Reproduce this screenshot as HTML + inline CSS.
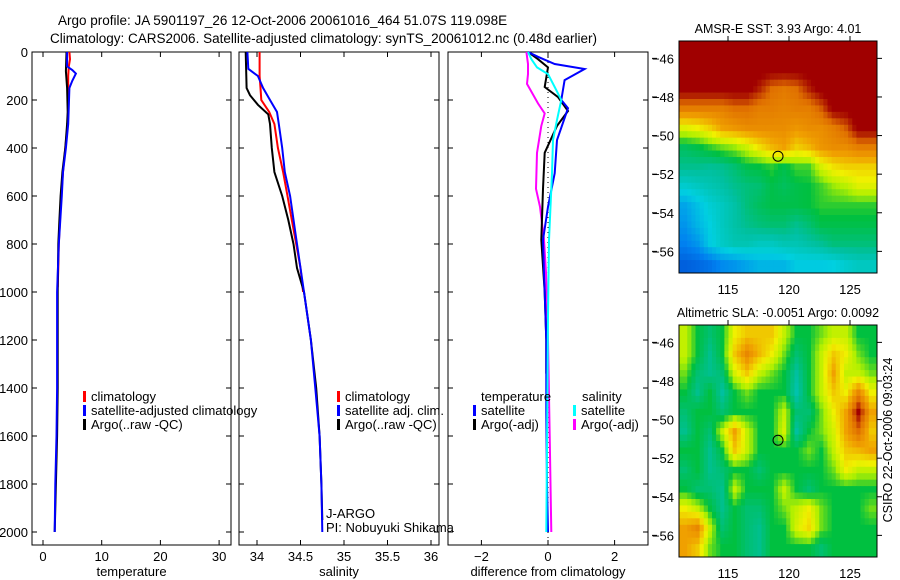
<!DOCTYPE html>
<html><head><meta charset="utf-8"><style>
html,body{margin:0;padding:0;background:#fff;width:900px;height:580px;overflow:hidden}
svg{display:block;font-family:"Liberation Sans",sans-serif}
</style></head><body>
<svg id="fig" width="900" height="580" xmlns="http://www.w3.org/2000/svg">
<text x="58" y="25" font-size="13.5">Argo profile: JA 5901197_26 12-Oct-2006 20061016_464 51.07S 119.098E</text>
<text x="50" y="43" font-size="13.5">Climatology: CARS2006. Satellite-adjusted climatology: synTS_20061012.nc (0.48d earlier)</text>
<g id="g"></g>
</svg>
<script>
// ---- data ----
const depthTicks=[0,200,400,600,800,1000,1200,1400,1600,1800,2000];
const tempTicks=[0,10,20,30];
const salTicks=[34,34.5,35,35.5,36];
const diffTicks=[-2,0,2];
const tClimD=[0,30,60,100,200,300,400,500,600,700,800,900,980];
const tClimV=[4.5,4.6,4.4,4.3,4.3,4.2,3.8,3.4,3.1,2.9,2.7,2.6,2.5];
const tSatD=[0,60,75,90,120,150,300,400,500,600,800,1000,1200,1400,1600,1800,2000];
const tSatV=[4.1,4.1,5.0,5.6,5.0,4.5,4.3,3.9,3.4,3.2,2.7,2.4,2.4,2.4,2.3,2.1,2.0];
const tArgD=[0,80,150,250,300,400,500,600,700,800,1000,1200,1400,1600,1800,2000];
const tArgV=[4.0,3.9,4.1,4.2,4.1,3.8,3.3,3.0,2.8,2.6,2.5,2.5,2.5,2.4,2.2,2.0];
const sClimD=[0,100,150,200,250,300,400,500,600,700,800,900,1000];
const sClimV=[34.03,34.03,34.04,34.05,34.14,34.2,34.24,34.3,34.35,34.4,34.45,34.5,34.53];
const sSatD=[0,70,100,150,200,250,300,400,500,600,800,1000,1200,1400,1600,1800,2000];
const sSatV=[33.89,33.9,34.01,34.07,34.15,34.23,34.25,34.29,34.32,34.38,34.46,34.54,34.62,34.67,34.72,34.74,34.75];
const sArgD=[0,150,180,220,260,300,400,500,600,700,800,900,1000,1200,1400,1600,1800,1950];
const sArgV=[33.87,33.88,33.92,34.01,34.13,34.15,34.17,34.2,34.29,34.36,34.42,34.46,34.54,34.62,34.68,34.72,34.74,34.75];
const dTSatD=[0,20,50,71,117,200,234,367,505,645,783,920,1200,1500,1800,2000];
const dTSatV=[-0.6,-0.3,0.2,1.1,0.5,0.4,0.6,0.27,0.2,0.0,-0.15,-0.12,-0.05,-0.05,-0.03,0.0];
const dTArgD=[0,30,64,146,188,246,308,420,570,783,1000,1200,1340];
const dTArgV=[-0.6,-0.3,0.0,-0.1,0.3,0.6,0.27,-0.1,-0.15,-0.2,-0.1,-0.05,-0.05];
const dSSatD=[0,30,64,92,146,200,283,367,505,783,1100,1500,2000];
const dSSatV=[-0.6,-0.5,-0.33,0.0,0.2,0.4,0.27,0.15,0.12,0.03,0.0,-0.02,-0.05];
const dSArgD=[0,50,92,133,214,256,308,420,570,645,783,920,1200,1600,2000];
const dSArgV=[-0.65,-0.6,-0.6,-0.63,-0.3,-0.1,-0.2,-0.33,-0.36,-0.24,-0.12,-0.06,0.0,0.05,0.1];
const lonTicks=[115,120,125];
const latTicks=[-46,-48,-50,-52,-54,-56];
const sstGrid=[
[1,1,1,1,1,1,1,1,1,1,1,1,1,1,1,1],
[1,1,1,1,1,1,1,1,1,1,1,1,1,1,1,1],
[1,1,1,1,1,1,.95,.88,.86,.88,.95,1,1,1,1,1],
[.85,.85,.85,.85,.88,.88,.85,.85,.84,.85,.85,.9,1,1,1,1],
[.66,.68,.72,.78,.8,.82,.82,.82,.82,.8,.82,.82,.85,.9,1,1],
[.5,.52,.55,.58,.6,.64,.7,.75,.78,.72,.75,.8,.82,.82,.85,.85],
[.45,.45,.44,.45,.48,.52,.53,.55,.52,.56,.56,.65,.7,.72,.72,.72],
[.36,.38,.4,.42,.45,.47,.48,.52,.5,.52,.53,.56,.6,.62,.66,.66],
[.25,.3,.35,.38,.42,.47,.5,.52,.52,.52,.53,.55,.55,.55,.55,.55],
[.22,.28,.33,.38,.42,.45,.47,.48,.48,.45,.48,.52,.52,.52,.52,.52],
[.18,.22,.32,.37,.4,.4,.38,.38,.4,.4,.42,.44,.47,.47,.47,.47],
[.1,.12,.15,.2,.22,.25,.28,.28,.28,.32,.32,.32,.33,.36,.38,.38]];
const slaGrid=[
[.6,.5,.45,.5,.65,.7,.7,.7,.6,.5,.5,.55,.6,.6,.5,.5],
[.6,.5,.42,.5,.7,.8,.72,.65,.55,.45,.5,.6,.7,.65,.55,.5],
[.55,.45,.42,.45,.62,.7,.6,.55,.5,.4,.5,.6,.75,.6,.6,.55],
[.5,.42,.5,.4,.5,.55,.5,.5,.5,.38,.5,.6,.7,.65,.8,.65],
[.45,.5,.5,.45,.5,.5,.5,.5,.6,.45,.45,.55,.65,.75,.95,.75],
[.42,.5,.45,.6,.75,.6,.5,.5,.62,.4,.5,.55,.62,.75,.85,.7],
[.5,.5,.42,.5,.7,.6,.5,.5,.5,.5,.55,.5,.6,.7,.72,.75],
[.45,.5,.42,.45,.5,.5,.45,.5,.5,.5,.5,.5,.55,.65,.6,.6],
[.5,.45,.45,.42,.6,.5,.5,.5,.6,.5,.45,.5,.5,.5,.5,.5],
[.65,.6,.5,.42,.5,.45,.45,.5,.55,.6,.65,.55,.5,.5,.5,.55],
[.75,.8,.6,.45,.5,.45,.42,.5,.5,.62,.68,.55,.5,.5,.5,.5],
[.75,.7,.55,.5,.5,.45,.42,.5,.5,.5,.5,.45,.5,.5,.5,.5]];
const argoLon=119.1, argoLat=-51.07;

// ---- drawing ----
const NS="http://www.w3.org/2000/svg";const G=document.getElementById('g');
function el(t,a,p){const e=document.createElementNS(NS,t);for(const k in a)e.setAttribute(k,a[k]);(p||G).appendChild(e);return e;}
const yD=d=>52+0.24*d;
const panels=[
 {x0:32,x1:231,fx:v=>43+5.87*v,ticks:tempTicks,lab:'temperature',name:'temperature-panel'},
 {x0:239,x1:439,fx:v=>257+87*(v-34),ticks:salTicks,lab:'salinity',name:'salinity-panel'},
 {x0:448,x1:648,fx:v=>548+33.3*v,ticks:diffTicks,lab:'difference from climatology',name:'difference-panel'}];
panels.forEach((p,i)=>{
 const g=el('g',{});
 
 
 el('rect',{x:p.x0,y:52,width:p.x1-p.x0,height:493,fill:'none',stroke:'#000','stroke-width':1},g);
 depthTicks.forEach(d=>{const y=yD(d);
  el('line',{x1:p.x0,x2:p.x0+5,y1:y,y2:y,stroke:'#000'},g);el('line',{x1:p.x1-5,x2:p.x1,y1:y,y2:y,stroke:'#000'},g);
  if(i==0){const t=el('text',{x:28,y:y+5,'font-size':13,'text-anchor':'end'},g);t.textContent=d;
   
   }
 });
 p.ticks.forEach(v=>{const x=p.fx(v);
  el('line',{x1:x,x2:x,y1:52,y2:57,stroke:'#000'},g);el('line',{x1:x,x2:x,y1:540,y2:545,stroke:'#000'},g);
  const t=el('text',{x:x,y:561,'font-size':13,'text-anchor':'middle'},g);t.textContent=(v<0?'\u2212'+(-v):v);
  
  
 });
 const lt=el('text',{x:(p.x0+p.x1)/2,y:576,'font-size':13,'text-anchor':'middle'},g);lt.textContent=p.lab;
 
 
});
function series(D,V,fx,col,name){
 const pts=D.map((d,i)=>fx(V[i]).toFixed(1)+','+yD(d).toFixed(1)).join(' ');
 const e=el('polyline',{points:pts,fill:'none',stroke:col,'stroke-width':2});
 
 
}
const zl=el('line',{x1:548,x2:548,y1:52,y2:545,stroke:'#000','stroke-dasharray':'1,4'});


const P=panels;
series(tClimD,tClimV,P[0].fx,'#f00','temp-climatology-line');
series(tArgD,tArgV,P[0].fx,'#000','temp-argo-line');
series(tSatD,tSatV,P[0].fx,'#00f','temp-satellite-line');
series(sClimD,sClimV,P[1].fx,'#f00','sal-climatology-line');
series(sArgD,sArgV,P[1].fx,'#000','sal-argo-line');
series(sSatD,sSatV,P[1].fx,'#00f','sal-satellite-line');
series(dSArgD,dSArgV,P[2].fx,'#f0f','diff-sal-argo-line');
series(dTArgD,dTArgV,P[2].fx,'#000','diff-temp-argo-line');
series(dTSatD,dTSatV,P[2].fx,'#00f','diff-temp-satellite-line');
series(dSSatD,dSSatV,P[2].fx,'#0ff','diff-sal-satellite-line');
function legend(x,y,col,txt,name){
 el('rect',{x:x,y:y-10,width:3,height:11,fill:col});
 const t=el('text',{x:x+8,y:y,'font-size':13});t.textContent=txt;
 
 
}
legend(83,401,'#f00','climatology','legend-climatology');
legend(83,415,'#00f','satellite-adjusted climatology','legend-satellite');
legend(83,429,'#000','Argo(..raw -QC)','legend-argo');
legend(337,401,'#f00','climatology','legend-climatology-2');
legend(337,415,'#00f','satellite adj. clim.','legend-satellite-2');
legend(337,429,'#000','Argo(..raw -QC)','legend-argo-2');
let tt=el('text',{x:481,y:401,'font-size':13});tt.textContent='temperature';


legend(473,415,'#00f','satellite','legend-temp-satellite');
legend(473,429,'#000','Argo(-adj)','legend-temp-argo');
tt=el('text',{x:582,y:401,'font-size':13});tt.textContent='salinity';


legend(573,415,'#0ff','satellite','legend-sal-satellite');
legend(573,429,'#f0f','Argo(-adj)','legend-sal-argo');
tt=el('text',{x:326,y:518,'font-size':13});tt.textContent='J-ARGO';


tt=el('text',{x:326,y:532,'font-size':13});tt.textContent='PI: Nobuyuki Shikama';



// maps
const stops=[[0,[0,48,192]],[.2,[0,128,240]],[.35,[0,208,224]],[.45,[0,192,160]],[.55,[0,192,64]],[.63,[176,240,0]],[.7,[240,240,0]],[.8,[240,160,0]],[.9,[224,112,0]],[1,[160,0,0]]];
function cmap(v){v=Math.max(0,Math.min(1,v));for(let i=1;i<stops.length;i++){if(v<=stops[i][0]){const a=stops[i-1],b=stops[i],f=(v-a[0])/(b[0]-a[0]);return 'rgb('+a[1].map((c,k)=>Math.round(c+(b[1][k]-c)*f)).join(',')+')';}}return 'rgb(160,0,0)';}
function sample(grid,r,c){
 const R=grid.length,C=grid[0].length;
 r=Math.max(0,Math.min(R-1,r));c=Math.max(0,Math.min(C-1,c));
 const r0=Math.floor(r),c0=Math.floor(c),r1=Math.min(R-1,r0+1),c1=Math.min(C-1,c0+1),fr=r-r0,fc=c-c0;
 return grid[r0][c0]*(1-fr)*(1-fc)+grid[r0][c1]*(1-fr)*fc+grid[r1][c0]*fr*(1-fc)+grid[r1][c1]*fr*fc;
}
function map(y0,grid,title,name,off){
 const x0=679,x1=877,y1=y0+232,lat0=-45.1,px=12.2,py=19.3;
 const g=el('g',{});
 
 
 const R=grid.length,C=grid[0].length,S=3,cw=(x1-x0)/(C*S),ch=(y1-y0)/(R*S);
 for(let r=0;r<R*S;r++)for(let c=0;c<C*S;c++){
  const v=sample(grid,(r+0.5)/S-0.5,(c+0.5)/S-0.5)+off;
  el('rect',{x:(x0+c*cw).toFixed(2),y:(y0+r*ch).toFixed(2),width:(cw+0.5).toFixed(2),height:(ch+0.5).toFixed(2),fill:cmap(v)},g);
 }
 el('rect',{x:x0,y:y0,width:x1-x0,height:y1-y0,fill:'none',stroke:'#000'},g);
 lonTicks.forEach(l=>{const x=728+(l-115)*px;
  el('line',{x1:x,x2:x,y1:y0-5,y2:y0,stroke:'#000'},g);
  const t=el('text',{x:x,y:y1+21,'font-size':13,'text-anchor':'middle'},g);t.textContent=l;
  
  });
 latTicks.forEach(l=>{const y=y0+(lat0-l)*py;
  el('line',{x1:x1,x2:x1+5,y1:y,y2:y,stroke:'#000'},g);
  el('line',{x1:652,x2:657,y1:y,y2:y,stroke:'#000'},g);
  const t=el('text',{x:674,y:y+5,'font-size':13,'text-anchor':'end'},g);t.textContent='\u2212'+(-l);
  
  });
 const t=el('text',{x:778,y:y0-8,'font-size':12.5,'text-anchor':'middle'},g);t.textContent=title;
 
 
 const c=el('circle',{cx:728+(argoLon-115)*px,cy:y0+(lat0-argoLat)*py,r:5,fill:'none',stroke:'#000'},g);
 
 
}
map(41,sstGrid,'AMSR-E SST: 3.93 Argo: 4.01','sst-map',0.02);
map(325,slaGrid,'Altimetric SLA: -0.0051 Argo: 0.0092','sla-map',0.05);
tt=el('text',{x:0,y:0,'font-size':12.5,'text-anchor':'middle',transform:'translate(892,440) rotate(-90)'});
tt.textContent='CSIRO 22-Oct-2006 09:03:24';


</script>
</body></html>
